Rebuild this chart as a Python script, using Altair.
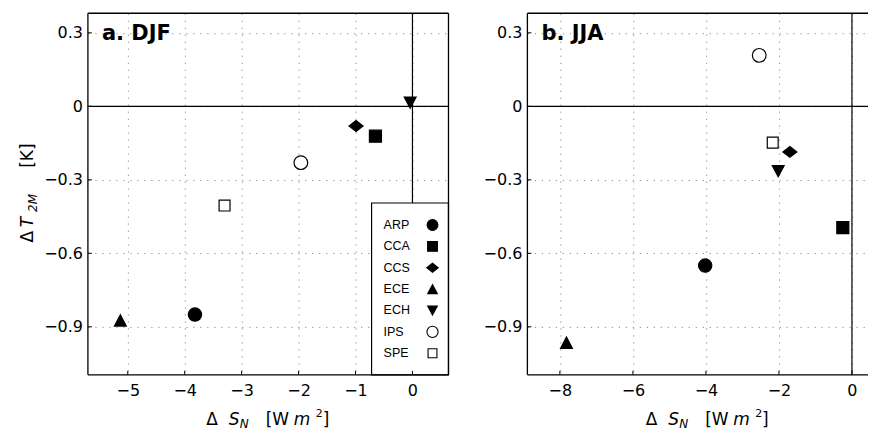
import altair as alt
import pandas as pd

# ---------------- data ----------------
models = ["ARP", "CCA", "CCS", "ECE", "ECH", "IPS", "SPE"]
djf_sn = [-3.82, -0.65, -0.99, -5.13, -0.04, -1.96, -3.30]
djf_t2m = [-0.850, -0.122, -0.080, -0.874, 0.015, -0.230, -0.405]
jja_sn = [-4.02, -0.25, -1.70, -7.82, -2.02, -2.54, -2.17]
jja_t2m = [-0.650, -0.495, -0.186, -0.965, -0.265, 0.208, -0.148]

djf_xticks = [-5, -4, -3, -2, -1, 0]
jja_xticks = [-8, -6, -4, -2, 0]
yticks = [0.3, 0, -0.3, -0.6, -0.9]

# marker styles (one per model)
shapes = [
    "M-0.95,0A0.95,0.95,0,1,0,0.95,0A0.95,0.95,0,1,0,-0.95,0Z",
    "M-0.86,-0.86H0.86V0.86H-0.86Z",
    "M-1.0,0L0,-0.78L1.0,0L0,0.78Z",
    "M0,-0.8L0.85,0.8L-0.85,0.8Z",
    "M0,0.8L0.85,-0.8L-0.85,-0.8Z",
    "M-0.98,0A0.98,0.98,0,1,0,0.98,0A0.98,0.98,0,1,0,-0.98,0Z",
    "M-0.78,-0.78H0.78V0.78H-0.78Z",
]
fills = ["black", "black", "black", "black", "black", "white", "white"]

FONT = "DejaVu Sans"
LFONT = "Liberation Sans"
W1, W2, H = 361, 341, 362
shape_scale = alt.Scale(domain=models, range=shapes)
fill_scale = alt.Scale(domain=models, range=fills)


def txt(s, x, y, size, italic=False, bold=False, angle=0, align="left", font=FONT):
    kw = dict(font=font, fontSize=size, color="black", align=align, baseline="alphabetic")
    if italic:
        kw["fontStyle"] = "italic"
    if bold:
        kw["fontWeight"] = "bold"
    if angle:
        kw["angle"] = angle
    return alt.Chart(pd.DataFrame({"t": [s]})).mark_text(**kw).encode(
        x=alt.value(x), y=alt.value(y), text="t:N"
    )


def panel(sn, t2m, xdom, xticks, W, label, legend, ytitle, right_border):
    df = pd.DataFrame({"model": models, "sn": sn, "t2m": t2m})
    xs = alt.Scale(domain=xdom, nice=False, zero=False)
    ys = alt.Scale(domain=[-1.096, 0.38], nice=False, zero=False)
    xax = alt.Axis(values=xticks, title=None, format="~g", labelPadding=8)
    yax = alt.Axis(values=yticks, title=None, format="~g", labelPadding=5.5)

    points = alt.Chart(df).mark_point(size=196, filled=False, stroke="black", strokeWidth=1.2, opacity=1).encode(
        x=alt.X("sn:Q", scale=xs, axis=xax),
        y=alt.Y("t2m:Q", scale=ys, axis=yax),
        shape=alt.Shape("model:N", scale=shape_scale, legend=None),
        fill=alt.Fill("model:N", scale=fill_scale, legend=None),
    )

    zero = pd.DataFrame({"z": [0]})
    hzero = alt.Chart(zero).mark_rule(color="black", strokeWidth=1.2).encode(
        y=alt.Y("z:Q", scale=ys, axis=yax))
    vzero = alt.Chart(zero).mark_rule(color="black", strokeWidth=1.2).encode(
        x=alt.X("z:Q", scale=xs, axis=xax))

    frame_kw = dict(color="black", strokeWidth=1.3)
    frame = [
        alt.Chart(zero).mark_rule(**frame_kw).encode(x=alt.value(0), x2=alt.value(W), y=alt.value(0)),
        alt.Chart(zero).mark_rule(**frame_kw).encode(x=alt.value(0), x2=alt.value(W), y=alt.value(H)),
        alt.Chart(zero).mark_rule(**frame_kw).encode(x=alt.value(0), y=alt.value(0), y2=alt.value(H)),
    ]
    if right_border:
        frame.append(alt.Chart(zero).mark_rule(**frame_kw).encode(x=alt.value(W), y=alt.value(0), y2=alt.value(H)))
    xt = alt.Chart(pd.DataFrame({"v": xticks})).mark_rule(color="black", strokeWidth=1).encode(
        x=alt.X("v:Q", scale=xs, axis=xax), y=alt.value(H - 4), y2=alt.value(H))
    yt = alt.Chart(pd.DataFrame({"v": yticks})).mark_rule(color="black", strokeWidth=1).encode(
        y=alt.Y("v:Q", scale=ys, axis=yax), x=alt.value(0), x2=alt.value(4))

    layers = [hzero, vzero, points]

    if legend:
        lx0, ly0 = 284, 190
        box = alt.Chart(zero).mark_rect(fill="white", stroke="black", strokeWidth=1.2).encode(
            x=alt.value(lx0), x2=alt.value(W), y=alt.value(ly0), y2=alt.value(H))
        ldf = pd.DataFrame({"model": models, "ry": [212 + i * 21.4 for i in range(len(models))]})
        ltext = alt.Chart(ldf).mark_text(font=LFONT, fontSize=12.5, align="left", baseline="middle", color="black").encode(
            x=alt.value(296), y=alt.Y("ry:Q", scale=None, axis=None), text="model:N")
        lsym = alt.Chart(ldf).mark_point(size=130, filled=False, stroke="black", strokeWidth=1.1, opacity=1).encode(
            x=alt.value(345), y=alt.Y("ry:Q", scale=None, axis=None),
            shape=alt.Shape("model:N", scale=shape_scale, legend=None),
            fill=alt.Fill("model:N", scale=fill_scale, legend=None))
        layers += [box, ltext, lsym]

    layers += frame + [xt, yt]

    # panel label
    layers.append(txt(label, 14, 27, 21, bold=True))

    # x title: Δ S_N   [W m^2]
    b = 412
    layers += [
        txt("Δ", 118.5, b, 17),
        txt("S", 141, b, 17, italic=True),
        txt("N", 152, b + 3, 12, italic=True),
        txt("[W", 178, b, 17),
        txt("m", 206, b, 17, italic=True),
        txt("2", 228, b - 8, 11),
        txt("]", 235, b, 17),
    ]
    if ytitle:
        # y title: Δ T_2M   [K]  (rotated)
        layers += [
            txt("Δ", -55, 223.7, 17, angle=270, align="center"),
            txt("T", -55, 209, 17, italic=True, angle=270, align="center"),
            txt("2M", -51, 190, 12, italic=True, angle=270, align="center"),
            txt("[K]", -55, 142.5, 17, angle=270, align="center"),
        ]

    return alt.layer(*layers).properties(width=W, height=H)


left = panel(djf_sn, djf_t2m, [-5.70, 0.633], djf_xticks, W1, "a. DJF", True, True, True)
right = panel(jja_sn, jja_t2m, [-8.89, -8.89 + W2 / 36.55], jja_xticks, W2, "b. JJA", False, False, False)

chart = alt.hconcat(left, right, spacing=33).properties(
    padding={"left": 11, "top": 4, "right": 0, "bottom": 0}
).configure_view(stroke=None).configure_axis(
    labelFont=FONT, labelFontSize=16, labelColor="black",
    grid=True, gridColor="#8a8a8a", gridDash=[1.2, 5.8], gridWidth=1,
    domain=False, ticks=False, tickSize=0,
)

chart.save("out.html", embed_options={"renderer": "svg", "actions": False})
